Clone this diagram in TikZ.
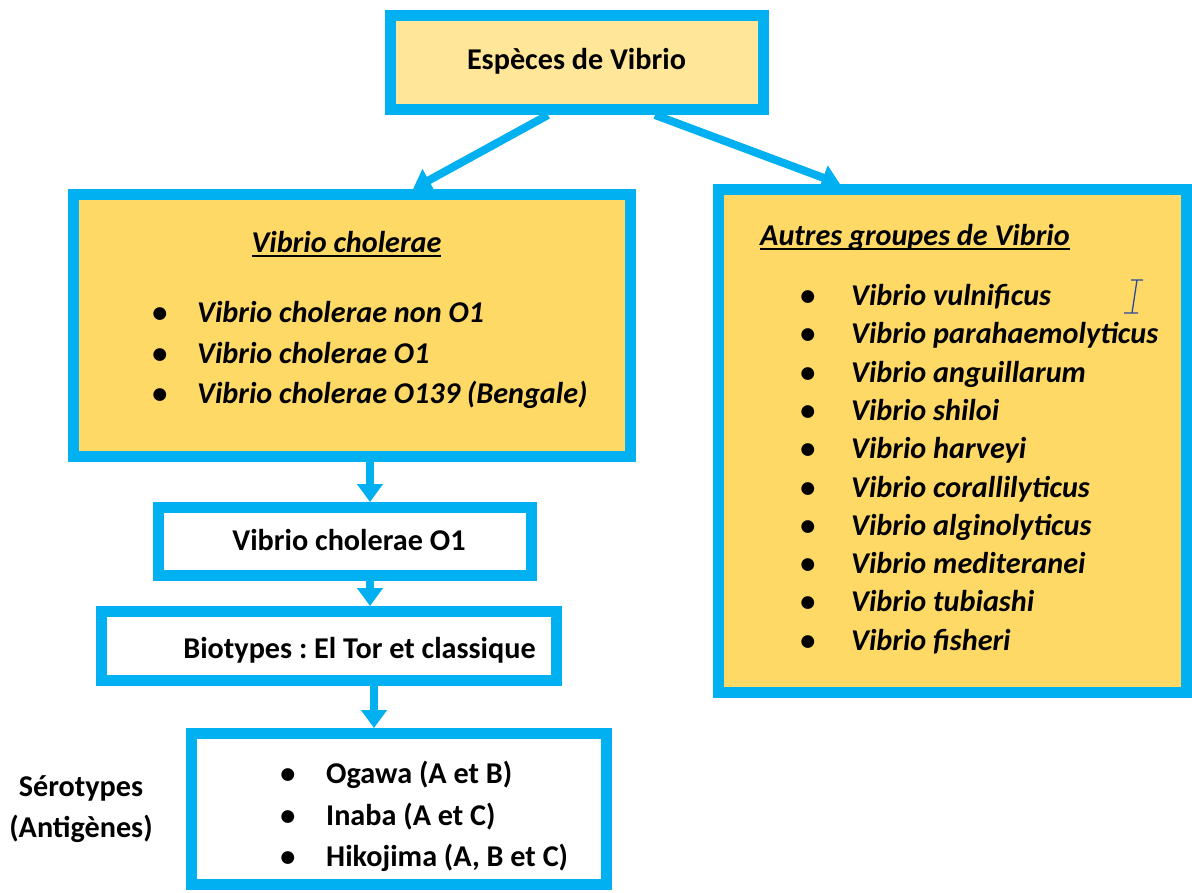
\documentclass[tikz,border=0pt]{standalone}
\usepackage{fontspec}
\setmainfont{Carlito}
\usetikzlibrary{arrows.meta}
\definecolor{cyanb}{HTML}{00B0F0}
\definecolor{gold}{HTML}{FFD966}
\definecolor{lgold}{HTML}{FFE699}
\definecolor{curs}{HTML}{2B4A9A}
\newcommand\myul[1]{\setbox0\hbox{#1}\rlap{\rule[-4.5pt]{\wd0}{1.8pt}}\box0}
\frenchspacing
\begin{document}
\begin{tikzpicture}[x=1pt,y=-1pt,
  box/.style={draw=cyanb,line width=11pt,inner sep=0pt,rectangle},
  arr/.style={draw=cyanb,line width=8pt,-{Triangle[width=25pt,length=18pt]}},
  txt/.style={font=\fontsize{30.2}{36}\selectfont\bfseries,inner sep=0pt,text height=0.75em,text depth=0.25em,yshift=-7pt},
  itx/.style={txt,font=\fontsize{30.2}{36}\selectfont\bfseries\itshape},
  lst/.style={itx,anchor=west},
  slst/.style={txt,anchor=west},
  bul/.style={txt,anchor=center}
  ]
\fill[white] (0,0) rectangle (1192,892);
\useasboundingbox (0,0) rectangle (1192,892);

% boxes
\node[box,fill=lgold,minimum width=373pt,minimum height=94pt] (top) at (577,62.5) {};
\node[box,fill=gold,minimum width=557pt,minimum height=262pt] (vc) at (352,325.5) {};
\node[box,fill=gold,minimum width=468pt,minimum height=503pt] (ag) at (952.5,441) {};
\node[box,fill=white,minimum width=373pt,minimum height=68pt] (o1) at (345,541.5) {};
\node[box,fill=white,minimum width=455pt,minimum height=69pt] (bt) at (329,646) {};
\node[box,fill=white,minimum width=415pt,minimum height=151pt] (se) at (399,809) {};

% arrows
\draw[arr] ([xshift=-29pt]top.south) -- ([xshift=61pt]vc.north);
\draw[arr] ([xshift=78pt]top.south) -- ([xshift=-112.5pt]ag.north);
\path ([xshift=18pt]vc.south) coordinate (v1);
\draw[arr] (v1) -- (v1 |- o1.north);
\path ([xshift=25pt]o1.south) coordinate (v2);
\draw[arr] (v2) -- (v2 |- bt.north);
\path ([xshift=45pt]bt.south) coordinate (v3);
\draw[arr] (v3) -- (v3 |- se.north);

% texts
\node[txt] (ttop) at (576.5,60) {Espèces de Vibrio};
\node[itx] (hvc) at (346.5,243) {\myul{Vibrio cholerae}};
\node[itx,anchor=west] (hag) at (760,236) {\myul{Autres groupes de Vibrio}};
\node[txt] (to1) at (349,541) {Vibrio cholerae O1};
\node[txt] (tbt) at (359.5,649) {Biotypes : El Tor et classique};
\node[txt] (ts1) at (81,787) {Sérotypes};
\node[txt] (ts2) at (81,828) {(Antigènes)};

% left list
\foreach \t [count=\i] in {Vibrio cholerae non O1,Vibrio cholerae O1,Vibrio cholerae O139 (Bengale)}{
  \pgfmathsetmacro{\yy}{313+40.5*(\i-1)}
  \node[bul] (lb\i) at (160,\yy) {•};
  \node[lst] (lt\i) at (197,\yy) {\t};
}
% right list
\foreach \t [count=\i] in {Vibrio vulnificus,Vibrio parahaemolyticus,Vibrio anguillarum,Vibrio shiloi,Vibrio harveyi,Vibrio corallilyticus,Vibrio alginolyticus,Vibrio mediteranei,Vibrio tubiashi,Vibrio fisheri}{
  \pgfmathsetmacro{\yy}{296+38.3*(\i-1)}
  \node[bul] (rb\i) at (808,\yy) {•};
  \node[lst] (rt\i) at (851,\yy) {\t};
}
% serotype list
\foreach \t [count=\i] in {Ogawa (A et B),Inaba (A et C),{Hikojima (A, B et C)}}{
  \pgfmathsetmacro{\yy}{774+41.5*(\i-1)}
  \node[bul] (sb\i) at (288,\yy) {•};
  \node[slst] (st\i) at (326,\yy) {\t};
}

% text cursor
\draw[curs,line width=1.3pt] (1131,280) -- (1143,280) (1137,280) -- (1132,313) (1124,313) -- (1138,313);
\end{tikzpicture}
\end{document}
